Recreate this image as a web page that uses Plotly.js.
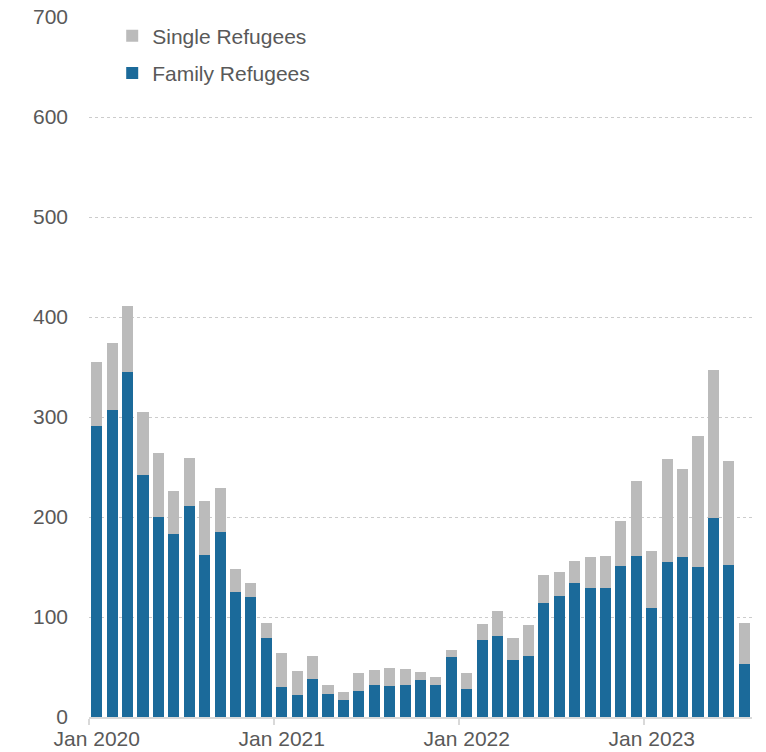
<!DOCTYPE html>
<html>
<head>
<meta charset="utf-8">
<script src="https://cdn.plot.ly/plotly-3.0.1.min.js"></script>
<style>
  html, body { margin: 0; padding: 0; background: #ffffff; }
  #chart { width: 766px; height: 752px; }
</style>
</head>
<body>
<div id="chart"></div>
<script>
const months = [
  "2020-01","2020-02","2020-03","2020-04","2020-05","2020-06","2020-07","2020-08","2020-09","2020-10","2020-11","2020-12",
  "2021-01","2021-02","2021-03","2021-04","2021-05","2021-06","2021-07","2021-08","2021-09","2021-10","2021-11","2021-12",
  "2022-01","2022-02","2022-03","2022-04","2022-05","2022-06","2022-07","2022-08","2022-09","2022-10","2022-11","2022-12",
  "2023-01","2023-02","2023-03","2023-04","2023-05","2023-06","2023-07"
];
const familyRefugees = [
  291,307,345,242,200,183,211,162,185,125,120,79,
  30,22,38,23,17,26,32,31,32,37,32,60,
  28,77,81,57,61,114,121,134,129,129,151,161,
  109,155,160,150,199,152,53
];
const singleRefugees = [
  64,67,66,63,64,43,48,54,44,23,14,15,
  34,24,23,9,8,18,15,18,16,8,8,7,
  16,16,25,22,31,28,24,22,31,32,45,75,
  57,103,88,131,148,104,41
];
const tickMonths = ["2020-01","2021-01","2022-01","2023-01"];
const tickLabels = ["Jan 2020","Jan 2021","Jan 2022","Jan 2023"];

const xIdx = months.map((m, i) => i);
const tickIdx = tickMonths.map(m => months.indexOf(m));

const textColor = "#595959";
const fontFamily = "Liberation Sans, Arial, sans-serif";

const traces = [
  {
    type: "bar", name: "Family Refugees", x: xIdx, y: familyRefugees,
    customdata: months, legendgroup: "family", legendrank: 2,
    marker: { color: "#1b6a9a" },
    hovertemplate: "%{customdata}: %{y}<extra>Family Refugees</extra>"
  },
  {
    type: "bar", name: "Single Refugees", x: xIdx, y: singleRefugees,
    customdata: months, legendgroup: "single", legendrank: 1,
    marker: { color: "#bbbbbb" },
    hovertemplate: "%{customdata}: %{y}<extra>Single Refugees</extra>"
  }
];

const layout = {
  width: 766, height: 752,
  margin: { l: 89, r: 14, t: 17, b: 35, pad: 0 },
  paper_bgcolor: "#ffffff", plot_bgcolor: "#ffffff",
  font: { family: fontFamily, size: 21, color: textColor },
  barmode: "stack",
  bargap: 0.28,
  showlegend: true,
  legend: {
    x: 0.035, xanchor: "left", y: 1.002, yanchor: "top",
    traceorder: "grouped", tracegroupgap: 7,
    bgcolor: "rgba(0,0,0,0)", borderwidth: 0,
    font: { family: fontFamily, size: 21, color: textColor },
    itemwidth: 30
  },
  xaxis: {
    range: [-0.5, 42.5],
    tickmode: "array", tickvals: tickIdx, ticktext: tickLabels,
    ticks: "", showgrid: false, zeroline: false,
    showline: true, linecolor: "#d9d9d9", linewidth: 2,
    tickfont: { family: fontFamily, size: 21, color: textColor },
    ticklabelstandoff: 2,
    minor: { tick0: -0.5, dtick: 12, ticks: "outside", ticklen: 6, tickcolor: "#d9d9d9", tickwidth: 2, showgrid: false },
    fixedrange: true
  },
  yaxis: {
    range: [0, 700], tick0: 0, dtick: 100,
    showgrid: true, gridcolor: "#cccccc", gridwidth: 1, griddash: "dot",
    zeroline: false, showline: false, ticks: "",
    tickfont: { family: fontFamily, size: 21, color: textColor },
    ticklabelstandoff: 20,
    fixedrange: true
  }
};

Plotly.newPlot("chart", traces, layout, { displayModeBar: false, staticPlot: true });
</script>
</body>
</html>
